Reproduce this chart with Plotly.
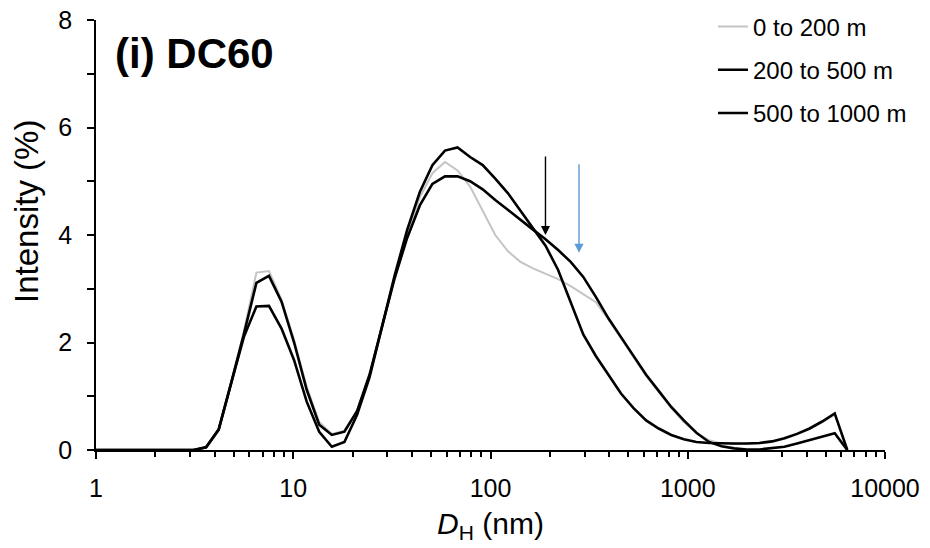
import numpy as np
import plotly.graph_objects as go

# Hydrodynamic diameter bins (nm)
d_nm = [0.9649, 1.117, 1.294, 1.499, 1.736, 2.01, 2.328, 2.696, 3.122, 3.615,
        4.187, 4.849, 5.615, 6.503, 7.531, 8.721, 10.1, 11.7, 13.54, 15.69,
        18.17, 21.04, 24.36, 28.21, 32.67, 37.84, 43.82, 50.75, 58.77, 68.06,
        78.82, 91.28, 105.7, 122.4, 141.8, 164.2, 190.1, 220.2, 255.0, 295.3,
        342.0, 396.1, 458.7, 531.2, 615.1, 712.4, 825.0, 955.4, 1106, 1281,
        1484, 1718, 1990, 2305, 2669, 3091, 3580, 4145, 4801, 5560, 6439]

# Intensity (%) per series
int_0_200 = [0, 0, 0, 0, 0, 0, 0, 0, 0, 0.05,
             0.38, 1.28, 2.2, 3.3, 3.33, 2.8, 2.05, 1.18, 0.52, 0.3,
             0.36, 0.72, 1.4, 2.3, 3.2, 4.05, 4.7, 5.15, 5.36, 5.2,
             4.9, 4.45, 4.0, 3.7, 3.5, 3.38, 3.28, 3.18, 3.05, 2.9,
             2.75, 2.43, 2.08, 1.73, 1.38, 1.08, 0.78, 0.52, 0.32, 0.18,
             0.12, 0.11, 0.11, 0.12, 0.15, 0.21, 0.29, 0.39, 0.52, 0.66, 0]

int_200_500 = [0, 0, 0, 0, 0, 0, 0, 0, 0, 0.05,
               0.38, 1.25, 2.15, 3.11, 3.24, 2.76, 2.0, 1.12, 0.47, 0.28,
               0.34, 0.72, 1.4, 2.3, 3.25, 4.1, 4.8, 5.3, 5.57, 5.63,
               5.45, 5.3, 5.05, 4.78, 4.45, 4.12, 3.8, 3.35, 2.75, 2.15,
               1.75, 1.4, 1.05, 0.78, 0.55, 0.4, 0.28, 0.2, 0.15, 0.13,
               0.12, 0.12, 0.12, 0.13, 0.16, 0.22, 0.3, 0.4, 0.53, 0.68, 0]

int_500_1000 = [0, 0, 0, 0, 0, 0, 0, 0, 0, 0.05,
                0.38, 1.25, 2.1, 2.67, 2.68, 2.26, 1.67, 0.9, 0.34, 0.06,
                0.15, 0.65, 1.35, 2.3, 3.2, 3.95, 4.55, 4.95, 5.09, 5.09,
                5.0, 4.85, 4.65, 4.47, 4.28, 4.1, 3.92, 3.72, 3.5, 3.22,
                2.85, 2.45, 2.1, 1.75, 1.4, 1.1, 0.8, 0.55, 0.32, 0.15,
                0.07, 0.03, 0.01, 0.01, 0.03, 0.06, 0.12, 0.18, 0.25, 0.31, 0]

series_names = ["0 to 200 m", "200 to 500 m", "500 to 1000 m"]
series_colors = ["#c4c4c4", "#000000", "#000000"]
series_widths = [2, 2.6, 2.6]

# Arrow markers: (x in nm, tip intensity, colour, length px)
arrow_x = [190, 281]
arrow_tip = [4.0, 3.67]
arrow_len = [80, 90]
arrow_col = ["#000000", "#5b9bd5"]

x_major = [1, 10, 100, 1000, 10000]
x_minor = [m * 10 ** k for k in range(4) for m in range(2, 10)]
y_ticks = list(range(0, 9))
y_text = [str(v) if v % 2 == 0 else "" for v in y_ticks]

FONT = "Arial, 'Liberation Sans', sans-serif"

fig = go.Figure()
for i, (name, ys) in enumerate(zip(series_names, [int_0_200, int_200_500, int_500_1000])):
    fig.add_trace(go.Scatter(
        x=d_nm, y=ys, mode="lines", name=name,
        line=dict(color=series_colors[i], width=series_widths[i]),
        legendgroup=f"g{i}",
    ))

for ax_, tip, col, ln in zip(arrow_x, arrow_tip, arrow_col, arrow_len):
    fig.add_annotation(
        x=np.log10(ax_), y=tip, xref="x", yref="y",
        ax=0, ay=-ln, axref="pixel", ayref="pixel",
        showarrow=True, arrowhead=2, arrowsize=1.3, arrowwidth=1.4,
        arrowcolor=col, text="",
    )

# panel label
fig.add_annotation(
    text="<b>(i) DC60</b>", xref="paper", yref="paper",
    x=(113 - 96) / 789, y=(450 - 53) / 430, xanchor="left", yanchor="middle",
    showarrow=False, font=dict(family=FONT, size=42, color="black"),
)
# y title
fig.add_annotation(
    text="Intensity (%)", xref="paper", yref="paper",
    x=(26 - 96) / 789, y=(450 - 212) / 430, xanchor="center", yanchor="middle",
    textangle=-90, showarrow=False, font=dict(family=FONT, size=33, color="black"),
)

fig.update_layout(
    width=930, height=548,
    margin=dict(l=96, r=45, t=20, b=98, autoexpand=False),
    paper_bgcolor="white", plot_bgcolor="white",
    font=dict(family=FONT, color="black"),
    showlegend=True,
    legend=dict(
        x=0.782, y=1.036, xanchor="left", yanchor="top",
        font=dict(family=FONT, size=24, color="black"),
        bgcolor="rgba(0,0,0,0)", borderwidth=0,
        tracegroupgap=9, traceorder="grouped",
        itemwidth=30,
    ),
    xaxis=dict(
        type="log", range=[0, 4],
        tickmode="array", tickvals=x_major, ticktext=[str(v) for v in x_major],
        ticks="outside", ticklen=7, tickwidth=1.5, tickcolor="black",
        minor=dict(tickmode="array", tickvals=x_minor, ticks="outside",
                   ticklen=5, tickwidth=1.5, tickcolor="black", showgrid=False),
        showline=True, linecolor="black", linewidth=1.8,
        showgrid=False, zeroline=False,
        tickfont=dict(family=FONT, size=25, color="black"),
        ticklabelstandoff=8,
        title=dict(text="<i>D</i><sub>H</sub> (nm)",
                   font=dict(family=FONT, size=30, color="black"), standoff=12),
    ),
    yaxis=dict(
        range=[0, 8],
        tickmode="array", tickvals=y_ticks, ticktext=y_text,
        ticks="outside", ticklen=7, tickwidth=1.5, tickcolor="black",
        showline=True, linecolor="black", linewidth=1.8,
        showgrid=False, zeroline=False,
        tickfont=dict(family=FONT, size=25, color="black"),
        ticklabelstandoff=10,
    ),
)

fig.write_html("out.html")
